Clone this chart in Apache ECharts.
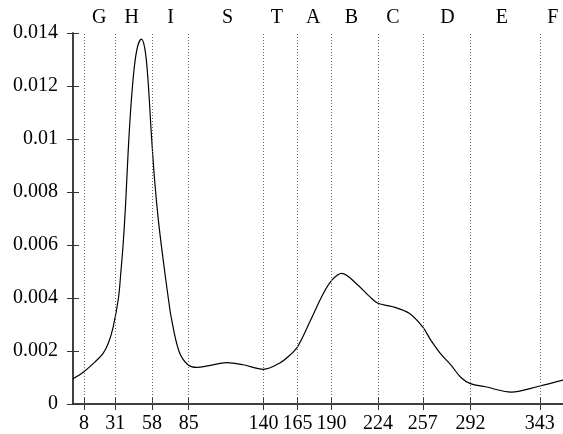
<!DOCTYPE html>
<html>
<head>
<meta charset="utf-8">
<script src="https://cdn.jsdelivr.net/npm/echarts@6/dist/echarts.min.js"></script>
<style>
  body { margin: 0; background: #fff; }
  #main { width: 563px; height: 434px; }
</style>
</head>
<body>
<div id="main"></div>
<script>
// curve samples
var xs = [0, 8, 16, 22, 26, 29.5, 33.4, 35.2, 36.8, 38.6, 40.5, 42.5, 45, 47.5, 50.2, 52.8, 55, 57.8, 60.2, 62.8, 65.6, 70, 72.4, 77.8, 84, 91, 100, 113, 125, 140, 152, 159.5, 165, 174, 184, 190.7, 197.5, 208, 218, 224, 235, 247, 257, 263, 270, 278, 285, 292, 303, 322, 343, 360];
var ys = [0.00095, 0.00122, 0.00158, 0.0019, 0.0023, 0.0029, 0.004, 0.005, 0.006, 0.0075, 0.0095, 0.0112, 0.0127, 0.0135, 0.01377, 0.0134, 0.0123, 0.01, 0.0083, 0.0069, 0.0057, 0.004, 0.0032, 0.002, 0.0015, 0.00138, 0.00145, 0.00156, 0.00148, 0.00131, 0.00155, 0.00185, 0.00216, 0.0031, 0.00418, 0.0047, 0.00493, 0.00455, 0.00405, 0.0038, 0.00367, 0.00342, 0.0029, 0.0024, 0.0019, 0.00145, 0.001, 0.00077, 0.00065, 0.00045, 0.00068, 0.0009];
// dotted boundaries and bottom tick labels
var bounds = [8, 31, 58, 85, 140, 165, 190, 224, 257, 292, 343];
// region letters on top
var regionNames = ['G', 'H', 'I', 'S', 'T', 'A', 'B', 'C', 'D', 'E', 'F'];
var regionPos = [19.2, 43.2, 71.7, 113.6, 149.7, 176.5, 204.6, 235, 275.2, 315, 352.6];

var font = 'Liberation Serif';
var axisCol = '#333';

var chart = echarts.init(document.getElementById('main'));
chart.setOption({
  animation: false,
  grid: { left: 73, right: 0, top: 33, bottom: 30 },
  xAxis: [{
    type: 'value', min: 0, max: 360, position: 'bottom',
    axisLine: { lineStyle: { color: axisCol, width: 1.5 } },
    axisTick: { inside: true, length: 6, customValues: bounds, lineStyle: { color: axisCol } },
    axisLabel: { customValues: bounds, color: '#000', fontFamily: font, fontSize: 20, margin: 10 },
    splitLine: { show: false }
  }, {
    type: 'value', min: 0, max: 360, position: 'top',
    axisLine: { lineStyle: { color: axisCol, width: 1.5 } },
    axisTick: { inside: true, length: 6, customValues: bounds, lineStyle: { color: axisCol } },
    axisLabel: {
      customValues: regionPos, color: '#000', fontFamily: font, fontSize: 20, margin: 5,
      formatter: function (v) { return regionNames[regionPos.indexOf(v)] || ''; }
    },
    splitLine: { show: false }
  }],
  yAxis: [{
    type: 'value', min: 0, max: 0.014, interval: 0.002, position: 'left',
    axisLine: { show: true, lineStyle: { color: axisCol, width: 1.5 } },
    axisTick: { show: true, inside: true, length: 6, lineStyle: { color: axisCol } },
    axisLabel: {
      color: '#000', fontFamily: font, fontSize: 20, margin: 15,
      formatter: function (v) { return String(+v.toFixed(3)); }
    },
    splitLine: { show: false }
  }, {
    type: 'value', min: 0, max: 0.014, interval: 0.002, position: 'right',
    axisLine: { show: true, lineStyle: { color: axisCol, width: 1.5 } },
    axisTick: { show: true, inside: true, length: 6, lineStyle: { color: axisCol } },
    axisLabel: { show: false },
    splitLine: { show: false }
  }],
  series: [{
    type: 'line',
    data: xs.map(function (x, i) { return [x, ys[i]]; }),
    smooth: 0.35,
    symbol: 'none',
    lineStyle: { color: '#000', width: 1.2 },
    markLine: {
      silent: true,
      symbol: 'none',
      label: { show: false },
      lineStyle: { color: '#666', type: [1, 2], width: 1 },
      data: bounds.map(function (b) { return { xAxis: b }; })
    }
  }]
});
</script>
</body>
</html>
